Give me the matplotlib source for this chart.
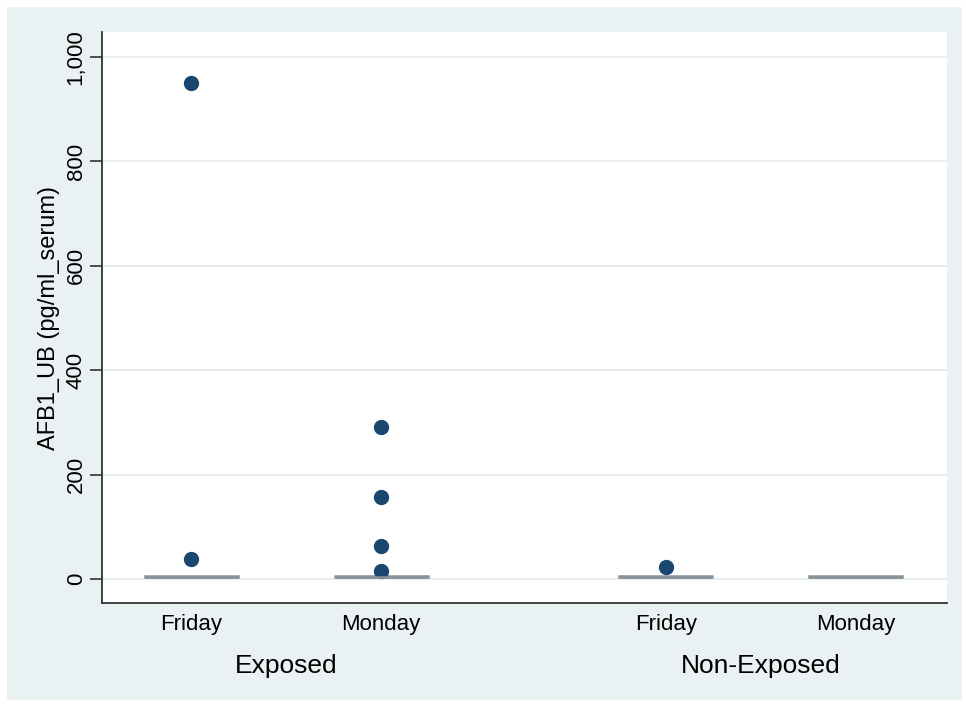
import matplotlib
matplotlib.use("Agg")
import matplotlib.pyplot as plt
from matplotlib.patches import Rectangle

plt.rcParams['font.family'] = ['Liberation Sans', 'DejaVu Sans']

# Groups and days
groups = ["Exposed", "Non-Exposed"]
days = ["Friday", "Monday", "Friday", "Monday"]
positions = [1.0, 2.0, 3.5, 4.5]

# Box summaries (pg/ml serum): values concentrated near zero
q1 = [3, 3, 3, 3]
med = [4, 4, 4, 4]
q3 = [5, 5, 5, 5]
whislo = [3, 3, 3, 3]
whishi = [5, 5, 5, 5]

# Outside values
fliers = [
    [950, 38],
    [292, 158, 63, 16],
    [23],
    [],
]

yticks = [0, 200, 400, 600, 800, 1000]

bg = "#eaf1f3"
navy = "#1a476f"
boxgray = "#8a9399"

fig = plt.figure(figsize=(9.66, 7.06), dpi=100, facecolor="white")
W, H = 966, 706
fig.patches.append(Rectangle((7 / W, 6 / H), 955 / W, 693 / H,
                             transform=fig.transFigure, facecolor=bg,
                             edgecolor="none", zorder=-10))

ax = fig.add_axes([102 / W, (H - 603) / H, 845 / W, 571 / H])
ax.set_facecolor("white")

stats = []
for i in range(len(positions)):
    stats.append(dict(q1=q1[i], med=med[i], q3=q3[i], whislo=whislo[i],
                      whishi=whishi[i], fliers=fliers[i]))

ax.bxp(stats, positions=positions, widths=0.49, showcaps=False,
       patch_artist=True,
       boxprops=dict(facecolor=boxgray, edgecolor=boxgray, linewidth=1.8),
       medianprops=dict(color=boxgray, linewidth=1.8),
       whiskerprops=dict(color=boxgray, linewidth=1.8),
       flierprops=dict(marker="o", markerfacecolor=navy, markeredgecolor=navy,
                       markersize=10, linestyle="none"))

ax.set_xlim(0.53, 4.98)
ax.set_ylim(-46, 1048)
ax.set_yticks(yticks)
ax.set_yticklabels([f"{v:,}" for v in yticks], rotation=90, va="center",
                   fontsize=16)
ax.yaxis.grid(True, color="#e8eef0", linewidth=1.5)
ax.set_axisbelow(True)
ax.tick_params(axis="y", length=9, width=1.2, color="#333333", pad=2)

ax.set_xticks(positions)
ax.set_xticklabels(days, fontsize=16)
ax.tick_params(axis="x", length=0, pad=8)

for side in ["top", "right"]:
    ax.spines[side].set_visible(False)
for side in ["left", "bottom"]:
    ax.spines[side].set_color("#333333")
    ax.spines[side].set_linewidth(1.3)

ax.set_ylabel("AFB1_UB (pg/ml_serum)", fontsize=17, labelpad=4)

# Group labels below the day labels
for g, (a, b) in zip(groups, [(positions[0], positions[1]),
                              (positions[2], positions[3])]):
    ax.text((a + b) / 2, -0.11, g, transform=ax.get_xaxis_transform(),
            ha="center", va="center", fontsize=19)

fig.savefig("out.png", dpi=100, facecolor=fig.get_facecolor())
